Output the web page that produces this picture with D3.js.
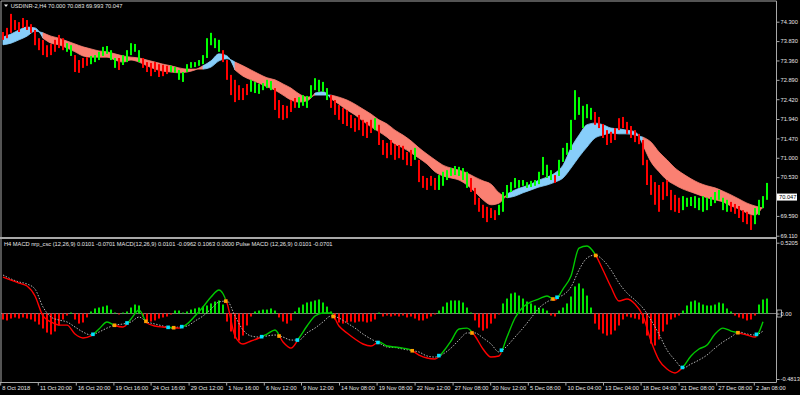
<!DOCTYPE html>
<html>
<head>
<meta charset="utf-8">
<script src="https://cdn.jsdelivr.net/npm/d3@7"></script>
<style>
  html, body { margin: 0; padding: 0; background: #000; }
  svg { display: block; }
  text { font-family: "Liberation Sans", Arial, sans-serif; font-size: 5.7px; fill: #e6e6e6; }
</style>
</head>
<body>
<div id="chart"></div>
<script>
// DATA (H4 bars)
const barHigh = [
  74.05,74.15,74.49,74.34,74.29,74.39,74.34,74.24,74.10,73.90,
  73.86,73.73,73.76,73.86,73.98,73.90,73.78,73.73,73.49,73.37,
  73.42,73.44,73.47,73.49,73.57,73.69,73.71,73.61,73.42,73.42,
  73.49,73.61,73.78,73.76,73.61,73.42,73.32,73.30,73.32,73.27,
  73.25,73.23,73.23,73.20,73.13,73.08,73.27,73.32,73.32,73.37,
  73.49,73.90,74.03,73.90,73.86,73.61,73.37,73.01,72.89,72.76,
  72.69,72.79,72.89,72.84,72.79,72.81,72.89,72.86,72.69,72.40,
  72.28,72.26,72.40,72.45,72.47,72.52,72.50,72.76,72.93,72.89,
  72.84,72.69,72.52,72.40,72.28,72.21,72.16,72.04,71.96,72.04,
  71.92,71.87,71.92,71.96,71.80,71.43,71.36,71.43,71.33,71.31,
  71.29,71.14,71.19,71.24,70.95,70.56,70.51,70.56,70.51,70.58,
  70.66,70.70,70.75,70.80,70.78,70.75,70.66,70.51,70.27,70.03,
  69.86,69.81,69.78,69.73,69.86,70.17,70.34,70.41,70.51,70.46,
  70.46,70.41,70.44,70.46,70.66,71.02,70.83,70.70,70.58,70.95,
  71.24,71.36,71.92,72.64,72.47,72.26,72.30,72.21,72.11,71.99,
  71.82,71.67,71.63,71.72,71.96,71.99,71.87,71.77,71.67,71.58,
  71.43,70.95,70.58,70.41,70.34,70.41,70.46,70.22,70.10,70.03,
  70.07,70.03,70.05,70.07,70.03,70.07,70.03,70.05,70.17,70.22,
  70.03,69.98,69.93,69.88,69.83,69.73,69.69,69.61,69.78,69.98,
  70.07,70.39
];
const barLow = [
  73.86,73.90,74.03,74.10,74.05,74.15,74.10,74.03,73.73,73.61,
  73.49,73.44,73.49,73.57,73.66,73.61,73.57,73.47,73.08,73.06,
  73.18,73.23,73.27,73.32,73.37,73.47,73.52,73.37,73.18,73.13,
  73.25,73.32,73.49,73.57,73.32,73.18,73.08,72.98,73.08,72.96,
  72.98,73.03,73.08,73.06,72.89,72.84,73.08,73.18,73.20,73.23,
  73.27,73.42,73.73,73.66,73.57,73.32,72.89,72.52,72.35,72.40,
  72.40,72.52,72.60,72.57,72.55,72.64,72.69,72.64,72.16,71.96,
  71.92,71.96,72.11,72.21,72.21,72.26,72.21,72.45,72.64,72.60,
  72.60,72.40,72.21,72.04,71.92,71.82,71.77,71.72,71.63,71.67,
  71.53,71.48,71.60,71.67,71.31,71.07,70.99,71.07,70.95,70.99,
  70.95,70.82,70.80,70.95,70.41,70.27,70.22,70.32,70.22,70.22,
  70.32,70.46,70.56,70.58,70.56,70.46,70.27,70.17,69.86,69.69,
  69.54,69.44,69.54,69.49,69.61,69.69,70.03,70.17,70.27,70.27,
  70.32,70.27,70.29,70.32,70.36,70.58,70.51,70.46,70.39,70.56,
  70.90,71.07,71.19,71.92,72.04,71.72,71.96,71.92,71.80,71.72,
  71.48,71.31,71.36,71.43,71.67,71.72,71.58,71.48,71.38,71.33,
  70.82,70.34,70.10,69.86,69.69,69.98,70.07,69.73,69.69,69.66,
  69.73,69.81,69.83,69.78,69.73,69.69,69.73,69.83,69.90,69.98,
  69.73,69.69,69.69,69.64,69.54,69.44,69.39,69.25,69.39,69.61,
  69.78,69.98
];
// bar colouring: first bar of each trend run
const trendStart = [0,16,18,22,29,30,35,42,55,62,68,74,82,93,94,103,104,109,117,124,138,139,148,170,182,188];
const trendDir = ["down","up","down","up","down","up","down","up","down","up","down","up","down",
                  "up","down","up","down","up","down","up","down","up","down","up","down","up"];

// ribbon moving averages, one value every 2 bars
const maFast = [
  73.93,74.00,74.10,74.17,74.15,73.90,73.78,73.74,73.66,73.57,
  73.47,73.44,73.44,73.44,73.37,73.32,73.37,73.32,73.23,73.15,
  73.10,73.08,73.06,73.08,73.13,73.23,73.35,73.52,73.47,73.13,
  72.98,72.89,72.81,72.72,72.64,72.52,72.40,72.35,72.38,72.57,
  72.60,72.43,72.30,72.16,72.04,71.89,71.75,71.63,71.50,71.33,
  71.24,71.12,70.99,70.85,70.66,70.56,70.51,70.46,70.34,70.17,
  69.98,69.86,69.90,70.12,70.22,70.29,70.36,70.46,70.53,70.63,
  70.82,71.24,71.55,71.80,71.84,71.80,71.72,71.70,71.67,71.63,
  71.31,70.90,70.66,70.46,70.34,70.24,70.17,70.10,70.03,69.98,
  69.93,69.83,69.76,69.66,69.61,69.83
];
const maSlow = [
  73.74,73.78,73.86,73.95,74.07,74.03,73.95,73.90,73.83,73.76,
  73.69,73.64,73.59,73.57,73.52,73.47,73.44,73.42,73.37,73.32,
  73.27,73.23,73.18,73.15,73.15,73.15,73.20,73.35,73.40,73.32,
  73.23,73.13,73.03,72.94,72.89,72.79,72.69,72.55,72.47,72.52,
  72.52,72.52,72.47,72.40,72.30,72.18,72.06,71.92,71.82,71.67,
  71.55,71.41,71.24,71.09,70.95,70.82,70.75,70.70,70.63,70.53,
  70.44,70.36,70.15,70.03,70.07,70.15,70.22,70.29,70.34,70.41,
  70.51,70.75,71.02,71.26,71.48,71.55,71.60,71.58,71.58,71.55,
  71.50,71.38,71.14,70.95,70.75,70.61,70.49,70.39,70.32,70.27,
  70.19,70.10,70.00,69.90,69.83,69.78
];

// MACD lines, one value every 2 bars
const macdMain = [
  0.268,0.246,0.224,0.202,0.129,-0.018,-0.062,-0.085,-0.085,-0.151,
  -0.180,-0.165,-0.114,-0.062,-0.088,-0.099,-0.040,0.026,-0.070,-0.092,
  -0.099,-0.103,-0.107,-0.077,-0.018,0.048,0.121,0.173,0.077,-0.165,
  -0.224,-0.202,-0.180,-0.151,-0.121,-0.209,-0.254,-0.180,-0.092,-0.018,
  0.004,0.004,-0.092,-0.143,-0.187,-0.224,-0.239,-0.209,-0.239,-0.246,
  -0.254,-0.268,-0.305,-0.327,-0.334,-0.283,-0.202,-0.114,-0.107,-0.165,
  -0.261,-0.320,-0.312,-0.173,-0.033,0.048,0.085,0.107,0.129,0.099,
  0.180,0.276,0.481,0.496,0.437,0.320,0.195,0.092,0.107,0.070,
  -0.018,-0.202,-0.342,-0.408,-0.437,-0.393,-0.312,-0.261,-0.232,-0.151,
  -0.107,-0.129,-0.143,-0.158,-0.173,-0.060
];
const macdSignal = [
  0.283,0.254,0.232,0.217,0.180,0.048,-0.026,-0.048,-0.062,-0.099,
  -0.136,-0.158,-0.136,-0.107,-0.085,-0.077,-0.062,-0.026,-0.062,-0.077,
  -0.092,-0.107,-0.099,-0.092,-0.055,-0.018,0.033,0.085,0.092,-0.018,
  -0.121,-0.165,-0.173,-0.165,-0.158,-0.173,-0.195,-0.195,-0.143,-0.107,
  -0.062,-0.018,-0.033,-0.070,-0.107,-0.151,-0.187,-0.217,-0.246,-0.250,
  -0.261,-0.272,-0.283,-0.312,-0.320,-0.298,-0.254,-0.195,-0.143,-0.143,
  -0.180,-0.224,-0.283,-0.239,-0.173,-0.107,-0.033,0.040,0.085,0.114,
  0.136,0.195,0.320,0.408,0.430,0.393,0.320,0.224,0.151,0.099,
  0.040,-0.048,-0.151,-0.268,-0.342,-0.401,-0.371,-0.342,-0.305,-0.254,
  -0.209,-0.173,-0.136,-0.151,-0.158,-0.129
];
// MACD histogram, one value per bar
const macdHist = [
  -0.044,-0.051,-0.037,-0.029,-0.037,-0.029,-0.037,-0.044,-0.059,-0.081,
  -0.110,-0.140,-0.154,-0.132,-0.088,-0.044,-0.015,0.007,-0.044,-0.074,
  -0.066,-0.029,0.015,0.037,0.044,0.051,0.059,0.029,0.007,-0.007,
  0.007,0.015,0.044,0.066,0.059,-0.022,-0.051,-0.059,-0.051,-0.037,
  -0.029,-0.022,-0.007,0.022,0.022,0.007,0.015,0.029,0.037,0.044,
  0.051,0.059,0.074,0.088,0.096,0.066,-0.059,-0.132,-0.184,-0.199,
  -0.162,-0.088,-0.022,0.015,0.022,0.029,0.029,0.037,0.022,-0.029,
  -0.059,-0.074,-0.051,0.015,0.044,0.066,0.081,0.088,0.096,0.103,
  0.081,0.051,0.015,-0.044,-0.066,-0.074,-0.066,-0.059,-0.066,-0.059,
  -0.059,-0.066,-0.059,-0.044,0.007,-0.022,-0.015,-0.022,-0.015,-0.022,
  -0.015,-0.029,-0.022,-0.037,-0.051,-0.051,-0.037,-0.022,-0.007,0.022,
  0.051,0.081,0.096,0.096,0.096,0.081,0.044,0.007,-0.051,-0.103,
  -0.125,-0.110,-0.074,-0.037,-0.007,0.074,0.110,0.147,0.154,0.132,
  0.110,0.088,0.074,0.059,0.044,0.037,0.022,-0.015,-0.022,0.022,
  0.044,0.074,0.125,0.199,0.221,0.184,0.132,0.044,-0.074,-0.118,
  -0.147,-0.162,-0.154,-0.125,-0.088,-0.044,-0.022,-0.029,-0.037,-0.044,
  -0.074,-0.162,-0.221,-0.235,-0.191,-0.132,-0.081,-0.044,-0.029,-0.015,
  0.022,0.059,0.088,0.096,0.081,0.066,0.059,0.059,0.066,0.081,
  0.074,0.037,0.015,-0.015,-0.029,-0.037,-0.051,-0.044,-0.015,0.066,
  0.103,0.110
];

const priceTicks = [74.300, 73.830, 73.360, 72.890, 72.420, 71.940, 71.470, 71.000, 70.530, 69.590, 69.110];
const lastPrice = 70.047;
const macdTicks = [0.5205, 0, -0.4813];
const macdTickText = ["0.5205", "0.00", "-0.4813"];
const timeTickBars = [-0.7, 8.7, 18.2, 27.6, 36.9, 46.4, 55.8, 65.2, 74.5, 84.0, 93.4,
                      102.9, 112.4, 121.8, 131.2, 140.6, 150.0, 159.4, 168.9, 178.3, 187.7];
const timeTickLabels = ["8 Oct 2018", "11 Oct 20:00", "16 Oct 20:00", "19 Oct 16:00", "24 Oct 16:00",
  "29 Oct 12:00", "1 Nov 16:00", "6 Nov 12:00", "9 Nov 12:00", "14 Nov 08:00", "19 Nov 08:00",
  "22 Nov 12:00", "27 Nov 08:00", "30 Nov 12:00", "5 Dec 08:00", "10 Dec 04:00", "13 Dec 04:00",
  "18 Dec 04:00", "21 Dec 08:00", "27 Dec 08:00", "2 Jan 08:00"];
const titleMain = "USDINR-2,H4  70.000 70.083 69.993 70.047";
const titleMacd = "H4 MACD nrp_csc (12,26,9) 0.0101 -0.0701   MACD(12,26,9) 0.0101 -0.0962 0.1063 0.0000   Pulse MACD (12,26,9) 0.0101 -0.0701";

// LAYOUT
const W = 800, H = 395;
const plotL = 1, plotR = 776.5;
const mainTop = 1, mainBot = 237;
const macdTop = 239, macdBot = 382.5;
const frameCol = "#a8a8a8";
const barW = 2;

const svg = d3.select("#chart").append("svg")
  .attr("width", W).attr("height", H)
  .style("background", "#000");

const x = d3.scaleLinear().domain([0, 191]).range([3, 767]);
const yP = d3.scaleLinear().domain([69.11, 74.30]).range([235.7, 21.7]);
const yM = d3.scaleLinear().domain([-0.4813, 0.5205]).range([379, 242.7]);

const defs = svg.append("defs");
defs.append("clipPath").attr("id", "clipMain").append("rect")
  .attr("x", plotL).attr("y", mainTop).attr("width", plotR - plotL).attr("height", mainBot - mainTop);
defs.append("clipPath").attr("id", "clipMacd").append("rect")
  .attr("x", plotL).attr("y", macdTop).attr("width", plotR - plotL).attr("height", macdBot - macdTop);

//   //   //   //   //   //   //   //
// PRICE PANEL

const gMain = svg.append("g").attr("clip-path", "url(#clipMain)");

// ribbon between the two averages, split in runs of one colour
const ribbon = maFast.map((f, k) => ({ k: k, f: f, s: maSlow[k], up: f > maSlow[k] }));
const runs = [];
let start = 0;
for (let k = 1; k <= ribbon.length; k++) {
  if (k === ribbon.length || ribbon[k].up !== ribbon[start].up) {
    runs.push({ up: ribbon[start].up, pts: ribbon.slice(start, Math.min(k + 1, ribbon.length)) });
    start = k;
  }
}
const ribArea = d3.area()
  .x((d) => x(d.k * 2))
  .y0((d) => yP(d.f))
  .y1((d) => yP(d.s))
  .curve(d3.curveMonotoneX);

gMain.selectAll("path.rib").data(runs).join("path")
  .attr("class", "rib")
  .attr("d", (d) => ribArea(d.pts))
  .attr("fill", (d) => (d.up ? "#87cefa" : "#fa8072"))
  .attr("stroke", (d) => (d.up ? "#87cefa" : "#fa8072"))
  .attr("stroke-width", 0.8);

// bars
const barDir = barHigh.map((_, i) => {
  let d = trendDir[0];
  trendStart.forEach((s, j) => { if (i >= s) d = trendDir[j]; });
  return d;
});

gMain.selectAll("rect.bar").data(barHigh).join("rect")
  .attr("class", "bar")
  .attr("x", (d, i) => x(i) - 1)
  .attr("width", barW)
  .attr("y", (d) => yP(d))
  .attr("height", (d, i) => Math.max(1, yP(barLow[i]) - yP(d)))
  .attr("fill", (d, i) => (barDir[i] === "up" ? "#00ff00" : "#ff0000"));

// price scale
const axP = svg.append("g")
  .attr("transform", "translate(" + plotR + ",0)")
  .call(d3.axisRight(yP).tickValues(priceTicks).tickSize(3).tickPadding(1).tickFormat(d3.format(".3f")));
axP.select(".domain").remove();
axP.selectAll("line").attr("stroke", frameCol);

// last price tag
svg.append("rect")
  .attr("x", plotR + 0.5).attr("y", yP(lastPrice) - 3.5)
  .attr("width", 20).attr("height", 7)
  .attr("fill", "#ffffff");
svg.append("text")
  .attr("x", plotR + 2.5).attr("y", yP(lastPrice) + 2)
  .style("fill", "#000")
  .text(lastPrice.toFixed(3));

// title
svg.append("path")
  .attr("d", "M4,4.6 L8,4.6 L6,7 Z")
  .attr("fill", "#e6e6e6");
svg.append("text").attr("x", 10.7).attr("y", 7.8).text(titleMain);

//   //   //   //   //   //   //   //
// MACD PANEL

const gMacd = svg.append("g").attr("clip-path", "url(#clipMacd)");

gMacd.append("line")
  .attr("x1", plotL).attr("x2", plotR)
  .attr("y1", yM(0)).attr("y2", yM(0))
  .attr("stroke", "#808080").attr("stroke-width", 1);

gMacd.selectAll("rect.hist").data(macdHist).join("rect")
  .attr("class", "hist")
  .attr("x", (d, i) => x(i) - 1)
  .attr("width", barW)
  .attr("y", (d) => Math.min(yM(0), yM(d)))
  .attr("height", (d) => Math.abs(yM(d) - yM(0)))
  .attr("fill", (d) => (d >= 0 ? "#00e600" : "#ff0000"));

const macdLine = d3.line()
  .x((d, k) => x(k * 2))
  .y((d) => yM(d))
  .curve(d3.curveMonotoneX);

gMacd.append("path")
  .attr("d", macdLine(macdSignal))
  .attr("fill", "none")
  .attr("stroke", "#b4b4b4")
  .attr("stroke-width", 1)
  .attr("stroke-dasharray", "1.5,1.5");

// crossings of main and signal
const diff = macdMain.map((m, k) => m - macdSignal[k]);
const crosses = [];
for (let k = 0; k < diff.length - 1; k++) {
  if ((diff[k] > 0) !== (diff[k + 1] > 0)) {
    const t = diff[k] / (diff[k] - diff[k + 1]);
    crosses.push({
      xc: x(2 * k) + t * (x(2 * k + 2) - x(2 * k)),
      v: macdMain[k] + t * (macdMain[k + 1] - macdMain[k]),
      up: diff[k + 1] > 0
    });
  }
}
const edges = [plotL].concat(crosses.map((c) => c.xc)).concat([plotR]);
let state = diff[0] > 0;
const segs = [];
for (let j = 0; j < edges.length - 1; j++) {
  segs.push({ x0: edges[j], x1: edges[j + 1], up: state });
  state = !state;
}
["up", "down"].forEach((nm) => {
  defs.append("clipPath").attr("id", "clip-" + nm)
    .selectAll("rect").data(segs.filter((s) => (nm === "up") === s.up)).join("rect")
    .attr("x", (s) => s.x0).attr("width", (s) => s.x1 - s.x0)
    .attr("y", macdTop).attr("height", macdBot - macdTop);
  gMacd.append("path")
    .attr("d", macdLine(macdMain))
    .attr("fill", "none")
    .attr("stroke", nm === "up" ? "#00c800" : "#ff0000")
    .attr("stroke-width", 1.4)
    .attr("clip-path", "url(#clip-" + nm + ")");
});

gMacd.selectAll("rect.dot").data(crosses).join("rect")
  .attr("class", "dot")
  .attr("x", (c) => c.xc - 1.8).attr("y", (c) => yM(c.v) - 1.8)
  .attr("width", 3.6).attr("height", 3.6)
  .attr("fill", (c) => (c.up ? "#00e0ff" : "#ffa000"));

const axM = svg.append("g")
  .attr("transform", "translate(" + plotR + ",0)")
  .call(d3.axisRight(yM).tickValues(macdTicks).tickSize(3).tickPadding(1)
    .tickFormat((d, i) => macdTickText[i]));
axM.select(".domain").remove();
axM.selectAll("line").attr("stroke", frameCol);

svg.append("rect")
  .attr("x", plotR + 0.5).attr("y", yM(0) - 3.5)
  .attr("width", 4.5).attr("height", 7)
  .attr("fill", "none").attr("stroke", "#e6e6e6").attr("stroke-width", 0.7);

svg.append("text").attr("x", 4).attr("y", 246).text(titleMacd);

// time scale
const axT = svg.append("g")
  .attr("transform", "translate(0," + macdBot + ")")
  .call(d3.axisBottom(x).tickValues(timeTickBars).tickSize(3).tickPadding(0)
    .tickFormat((d, i) => timeTickLabels[i]));
axT.select(".domain").remove();
axT.selectAll("line").attr("stroke", frameCol);
axT.selectAll("text").attr("text-anchor", "start").attr("dx", 1.6);

// FRAMES
const frame = svg.append("g").attr("fill", "none").attr("stroke", frameCol).attr("stroke-width", 1);
frame.append("line").attr("x1", plotL).attr("x2", plotR).attr("y1", mainTop).attr("y2", mainTop);
frame.append("line").attr("x1", plotL).attr("x2", plotL).attr("y1", mainTop).attr("y2", macdBot);
frame.append("line").attr("x1", plotR).attr("x2", plotR).attr("y1", mainTop).attr("y2", macdBot);
frame.append("line").attr("x1", 0).attr("x2", plotR).attr("y1", macdBot).attr("y2", macdBot);
frame.append("line").attr("x1", 0).attr("x2", plotR).attr("y1", 238).attr("y2", 238)
  .attr("stroke-width", 2);
</script>
</body>
</html>
